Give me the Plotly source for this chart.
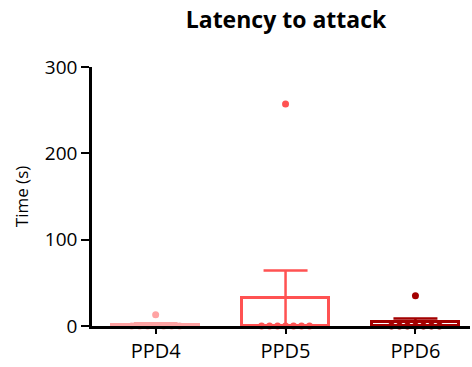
import numpy as np
import plotly.graph_objects as go

groups = ["PPD4", "PPD5", "PPD6"]
ppd4 = [0, 0, 0, 0, 0, 0, 0, 13]
ppd5 = [0, 0, 0, 0, 0, 0, 0, 257]
ppd6 = [0, 0, 0, 0, 0, 0, 0, 35]
colors = ["#FFA3A3", "#FF5252", "#A30000"]
yticks = [0, 100, 200, 300]

data = [ppd4, ppd5, ppd6]
means = [float(np.mean(d)) for d in data]
sems = [float(np.std(d, ddof=1) / np.sqrt(len(d))) for d in data]

fig = go.Figure()
for i, (g, m, s, c) in enumerate(zip(groups, means, sems, colors)):
    fig.add_trace(go.Bar(
        x=[i], y=[m], width=0.67, marker=dict(color="white", line=dict(color=c, width=3)),
        error_y=dict(type="data", array=[s], color=c, thickness=2.5, width=22),
        showlegend=False, xaxis="x", yaxis="y"))

# beeswarm-like spread of equal values
step = 0.0615
for i, (d, c) in enumerate(zip(data, colors)):
    xs, ys = [], []
    vals = sorted(set(d))
    for v in vals:
        n = d.count(v)
        offs = (np.arange(n) - (n - 1) / 2) * step
        xs += list(i + offs)
        ys += [v] * n
    fig.add_trace(go.Scatter(x=xs, y=ys, mode="markers",
                             marker=dict(color=c, size=7), cliponaxis=False,
                             showlegend=False, xaxis="x2", yaxis="y2"))

xr = [-0.49, 2.42]
yr = [0, 300]
fig.update_layout(
    width=472, height=367,
    margin=dict(l=92, r=2, t=67, b=41),
    plot_bgcolor="white", paper_bgcolor="white",
    font=dict(family="Open Sans", color="black"),
    title=dict(text="<b>Latency to attack</b>", x=286 / 472, xref="container", xanchor="center",
               y=1 - 20 / 367, yref="container", yanchor="middle",
               font=dict(size=23, color="black")),
    bargap=0,
    xaxis=dict(range=xr, tickmode="array", tickvals=[0, 1, 2], ticktext=groups,
               showline=True, linecolor="black", linewidth=3, ticks="outside",
               ticklen=5, tickwidth=2, tickcolor="black", showgrid=False,
               zeroline=False, tickfont=dict(size=20), fixedrange=True),
    yaxis=dict(range=yr, tickvals=yticks, showline=True, linecolor="black",
               linewidth=2.5, ticks="outside", ticklen=8, tickwidth=2,
               tickcolor="black", showgrid=False, zeroline=False,
               tickfont=dict(size=19),
               title=dict(text="Time (s)", font=dict(size=17), standoff=12)),
    xaxis2=dict(range=xr, overlaying="x", visible=False),
    yaxis2=dict(range=yr, overlaying="y", visible=False),
)
fig.write_html("out.html")
